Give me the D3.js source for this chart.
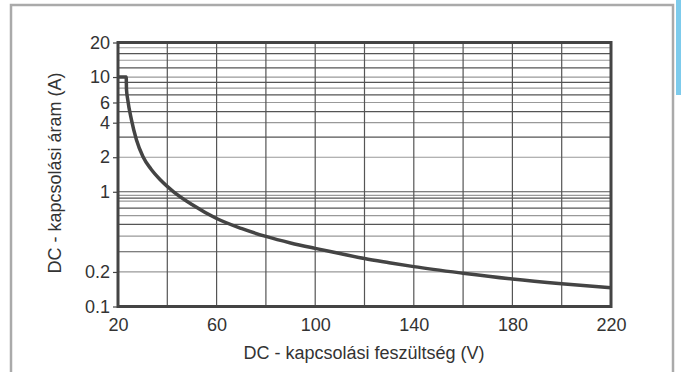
<!DOCTYPE html>
<html>
<head>
<meta charset="utf-8">
<script src="https://cdn.jsdelivr.net/npm/d3@7"></script>
<style>
  body { margin: 0; background: #fff; }
  svg text { font-family: "Liberation Sans", Arial, sans-serif; fill: #333; }
</style>
</head>
<body>
<svg width="681" height="372"></svg>
<script>
// curve: voltage (V) -> current (A)
const voltage = [20, 23.33, 23.45, 23.94, 25.44, 27.47, 30.15, 33.36, 37.25, 42.57, 50, 60, 70, 80, 90, 100, 110, 120, 130, 140, 160, 180, 200, 220];
const current = [10, 10, 7.78, 6.37, 4.25, 2.84, 2.02, 1.58, 1.267, 1.0, 0.775, 0.585, 0.479, 0.408, 0.358, 0.321, 0.29, 0.262, 0.241, 0.2226, 0.195, 0.1736, 0.158, 0.1458];

const xTickLabels = [20, 60, 100, 140, 180, 220];
const xGrid = [40, 60, 80, 100, 120, 140, 160, 180, 200];
const yTickLabels = [20, 10, 6, 4, 2, 1, 0.2, 0.1];
const yGrid = [18, 16, 14, 12, 10, 9, 8, 7, 6, 5, 4, 3, 2, 1, 0.93, 0.88, 0.83, 0.72, 0.62, 0.52, 0.41, 0.3, 0.2];

const svg = d3.select("svg");
const plotL = 118, plotR = 611, plotT = 42.5, plotB = 306.5;

const x = d3.scaleLinear().domain([20, 220]).range([plotL, plotR]);
const y = d3.scaleLog().domain([0.1, 20]).range([plotB, plotT]);

// outer frame
svg.append("path")
    .attr("d", `M11,372 V5 H673 V372`)
    .attr("fill", "none")
    .attr("stroke", "#aaa")
    .attr("stroke-width", 2.5);
svg.append("rect")
    .attr("x", 676).attr("y", 0).attr("width", 5).attr("height", 95)
    .attr("fill", "#7dcbec");

// grid
svg.append("g").selectAll("line").data(yGrid).join("line")
    .attr("x1", plotL).attr("x2", plotR)
    .attr("y1", d => y(d)).attr("y2", d => y(d))
    .attr("stroke", (d, i) => i % 2 ? "#555" : "#999")
    .attr("stroke-width", 1.2);
svg.append("g").selectAll("line").data(xGrid).join("line")
    .attr("x1", d => x(d)).attr("x2", d => x(d))
    .attr("y1", plotT).attr("y2", plotB)
    .attr("stroke", "#555")
    .attr("stroke-width", 1.2);

// axes
const yAxis = svg.append("g")
    .attr("transform", `translate(${plotL},0)`)
    .call(d3.axisLeft(y).tickValues(yTickLabels).tickFormat(d3.format("")).tickSize(5).tickPadding(3));
yAxis.select(".domain").remove();
yAxis.selectAll("line").attr("stroke", "#444").attr("stroke-width", 1.2);
yAxis.selectAll("text").attr("font-size", 18).attr("fill", "#333");

const xAxis = svg.append("g")
    .attr("transform", `translate(0,${plotB})`)
    .call(d3.axisBottom(x).tickValues(xTickLabels).tickSize(0).tickPadding(12));
xAxis.select(".domain").remove();
xAxis.selectAll("text").attr("font-size", 18).attr("fill", "#333");

// plot border
svg.append("rect")
    .attr("x", plotL).attr("y", plotT)
    .attr("width", plotR - plotL).attr("height", plotB - plotT)
    .attr("fill", "none")
    .attr("stroke", "#444")
    .attr("stroke-width", 3);

// curve
const line = d3.line()
    .x((d, i) => x(voltage[i]))
    .y(d => y(d))
    .curve(d3.curveMonotoneX);
svg.append("path")
    .datum(current)
    .attr("fill", "none")
    .attr("stroke", "#444")
    .attr("stroke-width", 3.5)
    .attr("stroke-linejoin", "round")
    .attr("d", line);

// titles
svg.append("text")
    .attr("x", 364).attr("y", 359)
    .attr("text-anchor", "middle")
    .attr("font-size", 18)
    .text("DC - kapcsolási feszültség (V)");
svg.append("text")
    .attr("transform", `translate(61,173) rotate(-90)`)
    .attr("text-anchor", "middle")
    .attr("font-size", 18)
    .text("DC - kapcsolási áram (A)");
</script>
</body>
</html>
